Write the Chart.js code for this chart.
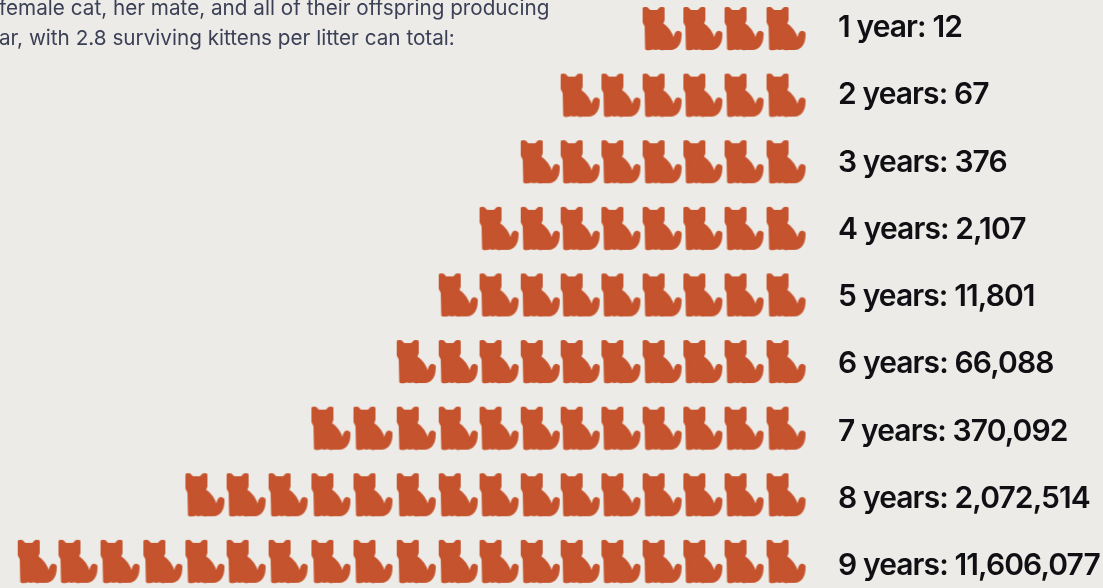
<!DOCTYPE html>
<html>
<head>
<meta charset="utf-8">
<title>Cats</title>
<script src="https://cdn.jsdelivr.net/npm/chart.js@4/dist/chart.umd.min.js"></script>
<style>
  html, body { margin: 0; padding: 0; background: #ecebe7; overflow: hidden; }
  #wrap { position: relative; width: 1103px; height: 588px; overflow: hidden; }
  #intro {
    position: absolute; left: -1px; top: -7px; white-space: nowrap;
    font: 400 20.7px/30px Inter, sans-serif; color: #3b4056;
  }
</style>
</head>
<body>
<div id="wrap">
  <div id="intro">female cat, her mate, and all of their offspring producing<br>ar, with 2.8 surviving kittens per litter can total:</div>
  <canvas id="gatos" width="1103" height="588"></canvas>
</div>
<script>
// Data
const years = [1, 2, 3, 4, 5, 6, 7, 8, 9];
const totals = ['12', '67', '376', '2,107', '11,801', '66,088', '370,092', '2,072,514', '11,606,077'];
const catsPerRow = [4, 6, 7, 8, 9, 10, 12, 15, 19];

const catColor = '#c5532d';
// columns are not quite evenly spaced in the picture, in units of one cat, from the right
const columnStops = [0, 1.01, 2, 2.98, 3.97, 4.95, 5.91, 6.9, 7.88, 8.89, 9.93, 10.94, 11.97, 12.98, 13.97, 14.98, 16.01, 17.02, 18];

// cat icon, used as the point style
function makeCat() {
    const c = document.createElement('canvas');
    c.width = 41;
    c.height = 45;
    const g = c.getContext('2d');
    g.translate(1, 1);
    g.fillStyle = catColor;
    g.strokeStyle = catColor;
    g.lineWidth = 3;
    g.lineJoin = 'round';
    g.beginPath();
    g.moveTo(1.5, 1.5);
    g.lineTo(4, 1.5);
    g.lineTo(7, 4.5);
    g.lineTo(15, 4.5);
    g.lineTo(18, 1.5);
    g.lineTo(20.5, 1.5);
    g.lineTo(20.5, 13);
    g.lineTo(19, 17);
    g.bezierCurveTo(25, 21, 29, 27, 30, 33);
    g.bezierCurveTo(32.5, 33, 32.5, 29, 33.5, 27);
    g.bezierCurveTo(34.5, 24.5, 38, 25, 37.5, 28);
    g.bezierCurveTo(37.5, 36, 34, 41.5, 28, 41.5);
    g.lineTo(21, 41.5);
    g.quadraticCurveTo(18, 42.5, 16, 40.5);
    g.quadraticCurveTo(13, 42.5, 10.5, 40.5);
    g.quadraticCurveTo(7, 42.5, 4, 41.5);
    g.lineTo(3.5, 19);
    g.lineTo(1.5, 15);
    g.closePath();
    g.fill();
    g.stroke();
    return c;
}

const rowLabels = years.map((y, i) => y + (y === 1 ? ' year: ' : ' years: ') + totals[i]);

const puntos = [];
years.forEach((y, i) => {
    for (let k = 0; k < catsPerRow[i]; k++) {
        puntos.push({ x: columnStops[k], y: y });
    }
});

// tighter text for the row labels
const textoApretado = {
    id: 'textoApretado',
    beforeDraw(chart) {
        chart.ctx.letterSpacing = '-0.9px';
    }
};

function crearGrafico() {
    const ctx = document.getElementById('gatos').getContext('2d');
    new Chart(ctx, {
        type: 'scatter',
        data: {
            datasets: [{
                data: puntos,
                pointStyle: makeCat(),
                pointRadius: 20,
                hoverRadius: 20,
                clip: false,
                xAxisID: 'x',
                yAxisID: 'filas'
            }]
        },
        plugins: [textoApretado],
        options: {
            responsive: false,
            animation: false,
            layout: { padding: { top: 28, bottom: 22, left: 0, right: 0 } },
            plugins: { legend: { display: false }, tooltip: { enabled: false } },
            scales: {
                x: { type: 'linear', reverse: true, min: -0.96, max: 18.39, display: false },
                filas: { type: 'linear', reverse: true, min: 0.9925, max: 9.07, display: false },
                etiquetas: {
                    type: 'category',
                    position: 'right',
                    labels: rowLabels,
                    offset: false,
                    grid: { display: false, drawTicks: false },
                    border: { display: false },
                    afterFit: s => { s.width = 277; s.paddingTop = 0; s.paddingBottom = 0; },
                    ticks: {
                        autoSkip: false,
                        padding: 12,
                        color: '#101014',
                        font: { family: 'Inter', size: 30, weight: '600' }
                    }
                }
            }
        }
    });
}

window.onload = crearGrafico;
</script>
</body>
</html>
